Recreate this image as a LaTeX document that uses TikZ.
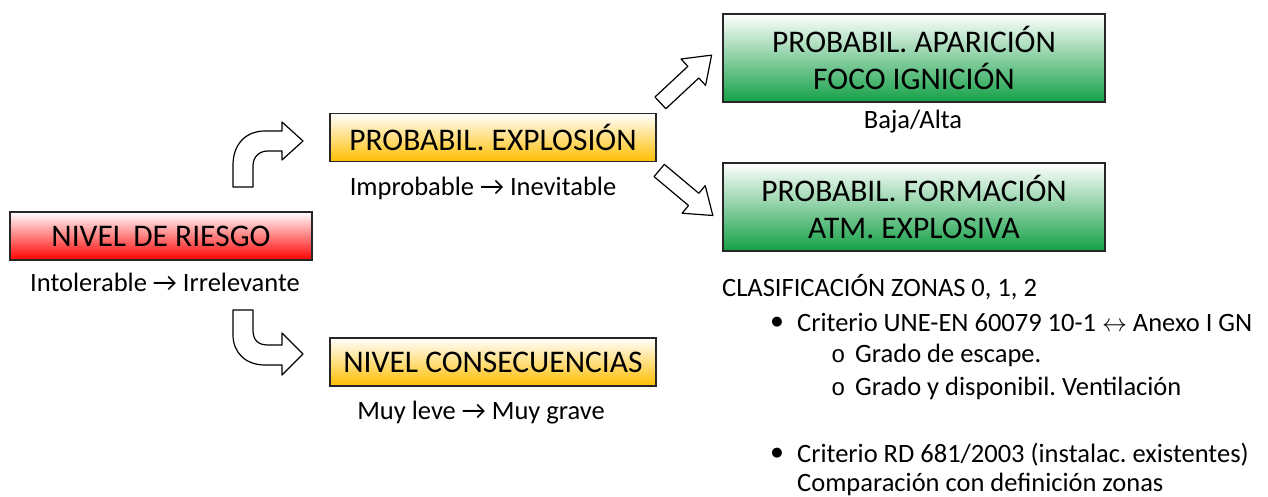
\documentclass[tikz,border=0pt]{standalone}
\usepackage{fontspec}
\setmainfont{Carlito}
\newfontfamily\monof{Liberation Mono}
\newfontfamily\symf{DejaVu Sans}
\definecolor{boxorange}{RGB}{255,190,0}
\definecolor{boxgreen}{RGB}{20,160,70}
\tikzset{
  box/.style={draw=black!85, line width=1.3pt, inner sep=0pt, align=center},
  bigtxt/.style={font=\fontsize{31.5}{37}\selectfont},
  redbox/.style={box, bigtxt, top color=white, bottom color=red, minimum width=302pt, minimum height=48pt},
  orbox/.style={box, bigtxt, top color=white, bottom color=boxorange, minimum width=326pt, minimum height=48pt},
  grbox/.style={box, bigtxt, top color=white, bottom color=boxgreen, minimum width=382pt, minimum height=88pt},
  lbl/.style={font=\fontsize{26.5}{30}\selectfont, inner sep=0pt},
  listtxt/.style={font=\fontsize{26.5}{30}\selectfont\frenchspacing, inner sep=0pt, anchor=base west},
  bul/.style={font=\fontsize{13}{15}\symf, inner sep=0pt, anchor=center},
  circ/.style={listtxt, font=\fontsize{24}{28}\monof},
  barrow/.style={draw=black, line width=1.2pt, fill=white, line join=round}
}
\begin{document}
\begin{tikzpicture}[x=1pt,y=-1pt]
\useasboundingbox (0,0) rectangle (1268,497);
% boxes
\node[redbox] (riesgo) at (161,236) {NIVEL DE RIESGO};
\node[lbl] (riesgol) at (165,282) {Intolerable → Irrelevante};
\node[orbox] (expl) at (493,137.5) {PROBABIL. EXPLOSIÓN};
\node[lbl] (expll) at (483,188) {Improbable → Inevitable};
\node[orbox] (cons) at (493,362) {NIVEL CONSECUENCIAS};
\node[lbl] (consl) at (481,413) {Muy leve → Muy grave};
\node[grbox] (apar) at (914,58) {PROBABIL. APARICIÓN\\FOCO IGNICIÓN};
\node[lbl] (aparl) at (913,122) {Baja/Alta};
\node[grbox] (form) at (914,207) {PROBABIL. FORMACIÓN\\ATM. EXPLOSIVA};
% bent arrow up
\draw[barrow] (233,187) -- (233,165) .. controls (233,145) and (245,131) .. (265,131)
  -- (282,131) -- (282,122) -- (303,141) -- (282,160) -- (282,151) -- (268,151)
  .. controls (259,151) and (253,157) .. (253,166) -- (253,187) -- cycle;
% bent arrow down
\draw[barrow] (233,310) -- (253,310) -- (253,330) .. controls (253,340) and (258,345) .. (268,345)
  -- (282,345) -- (282,333) -- (303,354) -- (282,375) -- (282,365) -- (265,365)
  .. controls (245,365) and (233,352) .. (233,335) -- cycle;
% diagonal arrows
\begin{scope}[shift={(686,79)}, rotate=43]
\draw[barrow] (-35,-8) -- (10,-8) -- (10,-18) -- (35,0) -- (10,18) -- (10,8) -- (-35,8) -- cycle;
\end{scope}
\begin{scope}[shift={(686,193)}, rotate=-40]
\draw[barrow] (-35,-8) -- (10,-8) -- (10,-18) -- (35,0) -- (10,18) -- (10,8) -- (-35,8) -- cycle;
\end{scope}
% classification list
\node[listtxt] (clas) at (722,296) {CLASIFICACIÓN ZONAS 0, 1, 2};
\node[bul] (b1) at (777,322) {●};
\node[listtxt] (t1) at (797,331) {Criterio UNE-EN 60079 10-1 $\leftrightarrow$ Anexo I GN};
\node[circ] (o1) at (831,362) {o};
\node[listtxt] (t2) at (855,362) {Grado de escape.};
\node[circ] (o2) at (831,395) {o};
\node[listtxt] (t3) at (855,395) {Grado y disponibil. Ventilación};
\node[bul] (b2) at (777,453) {●};
\node[listtxt] (t4) at (797,462) {Criterio RD 681/2003 (instalac. existentes)};
\node[listtxt] (t5) at (797,491) {Comparación con definición zonas};
\end{tikzpicture}
\end{document}
